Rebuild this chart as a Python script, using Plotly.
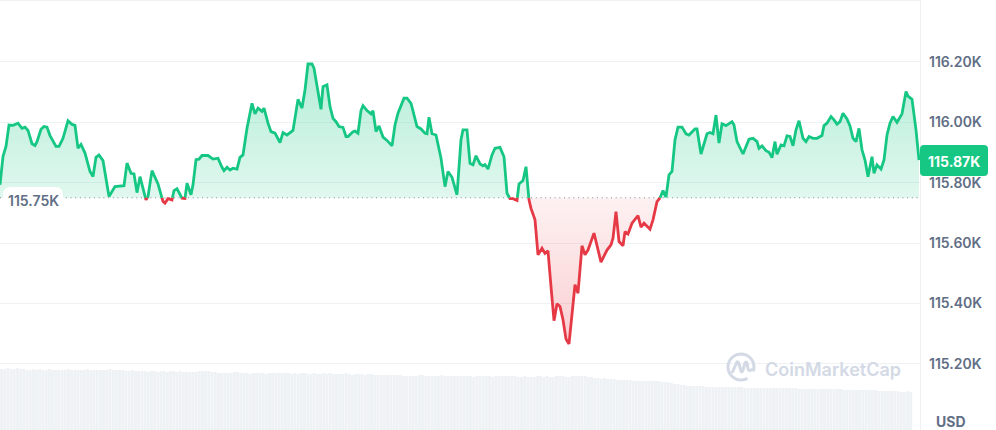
import math
import plotly.graph_objects as go

base_price = 115.75
last_price = 115.87

tick_vals = [116.2, 116.0, 115.8, 115.6, 115.4, 115.2]
tick_text = ["116.20K", "116.00K", "115.80K", "115.60K", "115.40K", "115.20K"]

# minutes since the left edge of the window
minutes = [
    0, 2, 3, 6, 9, 13, 18, 22, 25, 28, 32, 35, 37, 41, 44, 47, 50, 56, 59, 63, 68, 72, 75, 78, 81, 85, 90, 93, 96, 99,
    103, 109, 115, 124, 127, 131, 134, 137, 140, 146, 148, 152, 158, 163, 165, 168, 172, 174, 177, 182, 185, 187, 191,
    193, 196, 199, 202, 208, 213, 218, 222, 224, 227, 230, 233, 237, 240, 243, 247, 252, 255, 258, 262, 264, 268, 271,
    275, 280, 283, 287, 293, 298, 302, 305, 308, 312, 314, 321, 323, 327, 330, 333, 336, 339, 343, 346, 348, 353, 355,
    358, 361, 363, 367, 371, 373, 376, 379, 383, 387, 392, 395, 398, 404, 407, 411, 417, 421, 425, 427, 429, 432, 436,
    441, 445, 448, 452, 457, 461, 463, 467, 470, 473, 476, 480, 483, 485, 488, 492, 495, 500, 504, 507, 510, 513, 517,
    519, 523, 526, 529, 531, 535, 538, 542, 545, 548, 551, 554, 557, 560, 563, 566, 569, 575, 578, 582, 585, 588, 594,
    601, 607, 611, 613, 616, 619, 623, 625, 628, 632, 638, 641, 644, 650, 653, 657, 660, 663, 666, 669, 672, 675, 678,
    682, 686, 689, 695, 697, 701, 707, 710, 713, 716, 719, 722, 726, 732, 734, 737, 741, 743, 749, 753, 757, 759, 762,
    766, 769, 772, 775, 777, 781, 784, 787, 790, 793, 796, 799, 803, 806, 809, 813, 817, 822, 824, 827, 831, 834, 837,
    840, 843, 847, 850, 853, 856, 859, 862, 865, 868, 872, 874, 877, 881, 884, 887, 890, 893, 897, 902, 906, 908, 912,
    916, 919,
]

# price in thousands of USD
prices = [
    115.793, 115.848, 115.887, 115.920, 115.991, 115.990, 115.997, 115.980, 115.984, 115.973, 115.929, 115.923, 115.936,
    115.977, 115.986, 115.984, 115.956, 115.920, 115.920, 115.947, 116.005, 115.993, 115.990, 115.914, 115.927, 115.898,
    115.837, 115.820, 115.884, 115.892, 115.873, 115.754, 115.787, 115.790, 115.865, 115.831, 115.829, 115.767, 115.820,
    115.743, 115.754, 115.840, 115.796, 115.738, 115.732, 115.747, 115.743, 115.774, 115.780, 115.749, 115.748, 115.798,
    115.760, 115.793, 115.876, 115.878, 115.890, 115.890, 115.878, 115.881, 115.851, 115.840, 115.851, 115.842, 115.848,
    115.845, 115.884, 115.892, 115.980, 116.063, 116.028, 116.047, 116.036, 116.047, 115.997, 115.969, 115.964, 115.933,
    115.966, 115.958, 115.973, 116.076, 116.047, 116.107, 116.193, 116.193, 116.179, 116.043, 116.118, 116.124, 116.052,
    116.013, 116.002, 115.986, 115.983, 115.953, 115.953, 115.969, 115.971, 115.964, 116.039, 116.055, 116.039, 116.028,
    116.038, 115.969, 115.988, 115.951, 115.940, 115.922, 115.991, 116.030, 116.080, 116.080, 116.063, 115.986, 115.978,
    115.964, 115.962, 116.017, 115.962, 115.958, 115.881, 115.787, 115.837, 115.818, 115.760, 115.942, 115.975, 115.975,
    115.864, 115.859, 115.889, 115.862, 115.856, 115.860, 115.845, 115.892, 115.914, 115.917, 115.886, 115.765, 115.747,
    115.747, 115.741, 115.796, 115.807, 115.853, 115.743, 115.715, 115.677, 115.561, 115.583, 115.566, 115.574, 115.456,
    115.343, 115.399, 115.390, 115.346, 115.282, 115.266, 115.462, 115.434, 115.591, 115.561, 115.577, 115.633, 115.537,
    115.577, 115.594, 115.616, 115.704, 115.605, 115.591, 115.638, 115.630, 115.666, 115.691, 115.653, 115.666, 115.646,
    115.677, 115.737, 115.749, 115.774, 115.752, 115.826, 115.837, 115.942, 115.984, 115.984, 115.962, 115.958, 115.978,
    115.978, 115.895, 115.962, 115.966, 115.962, 116.024, 115.931, 115.995, 115.989, 116.002, 115.991, 115.936, 115.906,
    115.895, 115.944, 115.947, 115.936, 115.914, 115.922, 115.906, 115.901, 115.883, 115.936, 115.894, 115.925, 115.922,
    115.955, 115.953, 115.922, 115.975, 116.005, 115.947, 115.936, 115.953, 115.947, 115.947, 115.956, 115.989, 115.997,
    116.019, 116.008, 115.994, 116.002, 116.030, 116.011, 115.988, 115.947, 115.936, 115.980, 115.909, 115.875, 115.820,
    115.886, 115.831, 115.859, 115.845, 115.875, 115.958, 115.997, 116.019, 116.000, 116.028, 116.102, 116.087, 116.076,
    115.975, 115.875,
]

# volume per bar, billions of USD
volumes = [
    61, 61, 62, 61, 61, 62, 61, 61, 60, 60, 61, 60, 61, 60, 60, 61, 60, 60, 60, 60,
    60, 61, 60, 60, 60, 60, 60, 61, 60, 60, 60, 60, 60, 60, 61, 60, 60, 60, 60, 59,
    59, 60, 59, 59, 59, 59, 58, 59, 59, 58, 59, 59, 58, 59, 59, 58, 59, 58, 58, 58,
    58, 58, 59, 59, 59, 59, 58, 58, 57, 57, 57, 57, 57, 58, 58, 57, 57, 57, 56, 57,
    57, 57, 57, 56, 57, 57, 57, 57, 57, 57, 57, 56, 57, 56, 57, 57, 56, 56, 57, 56,
    56, 57, 56, 57, 56, 56, 56, 56, 57, 56, 55, 56, 56, 56, 55, 56, 56, 55, 55, 55,
    55, 55, 55, 55, 55, 55, 54, 54, 54, 54, 54, 55, 55, 54, 54, 54, 54, 54, 55, 54,
    54, 54, 54, 54, 54, 54, 54, 54, 53, 54, 54, 54, 54, 54, 53, 54, 54, 54, 54, 54,
    54, 54, 53, 53, 54, 53, 53, 53, 54, 54, 53, 54, 53, 53, 54, 54, 54, 53, 53, 54,
    54, 54, 54, 54, 53, 53, 52, 52, 51, 52, 51, 51, 51, 50, 50, 50, 50, 50, 49, 49,
    49, 49, 49, 49, 49, 49, 49, 48, 48, 48, 47, 46, 46, 45, 45, 44, 44, 44, 44, 44,
    44, 43, 43, 43, 43, 43, 43, 43, 43, 43, 43, 43, 43, 42, 42, 42, 42, 42, 42, 42,
    42, 42, 42, 42, 42, 42, 42, 42, 42, 42, 41, 41, 41, 41, 41, 41, 41, 41, 41, 41,
    41, 41, 41, 41, 40, 40, 40, 40, 40, 40, 40, 40, 40, 40, 40, 39, 39, 39, 39, 39,
    39, 39, 38, 38, 39, 38,
]
volume_minutes = [1.5 + 3.19 * i for i in range(len(volumes))]

GREEN = "#16c784"
RED = "#e63946"
GRID = "#eff2f5"
LABEL = "#616e85"
LOGO = "#d3d9e5"
W, H = 996, 430


def px(x, y):
    # pixel position on the page -> paper fraction, for the badges and the logo
    return x / W, 1 - y / H


def pt(x, y):
    a, b = px(x, y)
    return f"{a:.5f},{b:.5f}"


def round_box(x0, y0, x1, y1, r):
    return (f"M{pt(x0 + r, y0)} L{pt(x1 - r, y0)} Q{pt(x1, y0)} {pt(x1, y0 + r)} L{pt(x1, y1 - r)} "
            f"Q{pt(x1, y1)} {pt(x1 - r, y1)} L{pt(x0 + r, y1)} Q{pt(x0, y1)} {pt(x0, y1 - r)} "
            f"L{pt(x0, y0 + r)} Q{pt(x0, y0)} {pt(x0 + r, y0)} Z")


# the line changes colour where it crosses the open price, so add that point to both sides
xs, ys = [], []
for i in range(len(prices)):
    if i > 0 and (prices[i - 1] - base_price) * (prices[i] - base_price) < 0:
        f = (base_price - prices[i - 1]) / (prices[i] - prices[i - 1])
        xs.append(minutes[i - 1] + f * (minutes[i] - minutes[i - 1]))
        ys.append(base_price)
    xs.append(minutes[i])
    ys.append(prices[i])

green_line = [y if y >= base_price else None for y in ys]
red_line = [y if y <= base_price else None for y in ys]
green_fill = [max(y, base_price) for y in ys]
red_fill = [min(y, base_price) for y in ys]
base_line = [base_price] * len(xs)

fig = go.Figure()

fig.add_trace(go.Bar(x=volume_minutes, y=volumes, yaxis="y2", width=3.0,
                     marker=dict(color="#eff2f5", line=dict(width=0))))

fig.add_trace(go.Scatter(x=xs, y=base_line, mode="lines", line=dict(width=0)))
fig.add_trace(go.Scatter(x=xs, y=green_fill, mode="lines", line=dict(width=0), fill="tonexty",
                         fillgradient=dict(type="vertical", start=base_price, stop=116.2,
                                           colorscale=[[0, "rgba(22,199,132,0.13)"], [1, "rgba(22,199,132,0.32)"]])))
fig.add_trace(go.Scatter(x=xs, y=base_line, mode="lines", line=dict(width=0)))
fig.add_trace(go.Scatter(x=xs, y=red_fill, mode="lines", line=dict(width=0), fill="tonexty",
                         fillgradient=dict(type="vertical", start=115.27, stop=base_price,
                                           colorscale=[[0, "rgba(234,57,67,0.24)"], [1, "rgba(234,57,67,0.07)"]])))

fig.add_trace(go.Scatter(x=[0, 918], y=[base_price, base_price], mode="lines",
                         line=dict(color="#808a9d", width=1, dash="1px,3.7px")))
fig.add_trace(go.Scatter(x=xs, y=green_line, mode="lines", line=dict(color=GREEN, width=2.8)))
fig.add_trace(go.Scatter(x=xs, y=red_line, mode="lines", line=dict(color=RED, width=2.8)))

# logo: open ring plus the little wave inside
ring = []
for deg in range(60, 381, 10):
    a = math.radians(deg)
    ring.append(pt(741 + 13 * math.cos(a), 367 + 13 * math.sin(a)))
ring_path = "M" + " L".join(ring)
wave_path = (f"M{pt(732, 373)} L{pt(737, 362)} Q{pt(738, 361)} {pt(739, 364)} L{pt(741, 371)} "
             f"Q{pt(742, 373)} {pt(743, 370)} L{pt(745, 363)} Q{pt(746, 361)} {pt(747, 363)} "
             f"L{pt(748, 369)} Q{pt(749, 372)} {pt(753, 369)}")

shapes = [
    dict(type="line", xref="paper", yref="paper", x0=0, x1=920 / W, y0=1 - 0.5 / H, y1=1 - 0.5 / H,
         line=dict(color=GRID, width=1)),
    dict(type="line", xref="paper", yref="paper", x0=920.5 / W, x1=920.5 / W, y0=0, y1=1,
         line=dict(color=GRID, width=1)),
    dict(type="path", xref="paper", yref="paper", path=round_box(3, 187, 63, 212, 8),
         fillcolor="#ffffff", line=dict(width=0)),
    dict(type="path", xref="paper", yref="paper", path=round_box(920, 145, 988, 176, 4),
         fillcolor=GREEN, line=dict(width=0)),
    dict(type="path", xref="paper", yref="paper", path=ring_path, line=dict(color=LOGO, width=3)),
    dict(type="path", xref="paper", yref="paper", path=wave_path, line=dict(color=LOGO, width=3)),
]

annotations = [
    dict(text="115.75K", x=px(33, 0)[0], y=px(0, 200.5)[1], font=dict(size=14, color=LABEL, weight=600)),
    dict(text=f"{last_price:.2f}K", x=px(954, 0)[0], y=px(0, 161)[1], font=dict(size=14, color="#ffffff", weight=700)),
    dict(text="USD", x=px(951, 0)[0], y=px(0, 421)[1], font=dict(size=14, color=LABEL, weight=700)),
    dict(text="CoinMarketCap", x=px(833, 0)[0], y=px(0, 369)[1], font=dict(size=18, color=LOGO, weight=600)),
]
for a in annotations:
    a.update(xref="paper", yref="paper", showarrow=False, xanchor="center", yanchor="middle")

fig.update_layout(
    width=W, height=H,
    margin=dict(l=0, r=0, t=0, b=0),
    paper_bgcolor="#ffffff",
    plot_bgcolor="#ffffff",
    showlegend=False,
    hovermode=False,
    font=dict(family="Inter, sans-serif"),
    xaxis=dict(domain=[0, 920 / W], range=[0, 920], visible=False, fixedrange=True),
    yaxis=dict(domain=[0, 1], range=[114.981, 116.405], side="right", tickmode="array",
               tickvals=tick_vals, ticktext=tick_text, showgrid=True, gridcolor=GRID, gridwidth=1,
               zeroline=False, showline=False, ticks="", ticklabelstandoff=8,
               tickfont=dict(size=14, color=LABEL, weight=600), fixedrange=True),
    yaxis2=dict(domain=[0, 1], range=[0, 430], overlaying="y", visible=False, fixedrange=True),
    shapes=shapes,
    annotations=annotations,
)

# drop the browser's default page margin so the figure fills the window
fig.write_html("out.html", config=dict(displayModeBar=False),
               post_script="document.body.style.margin='0';document.body.style.overflow='hidden';")
